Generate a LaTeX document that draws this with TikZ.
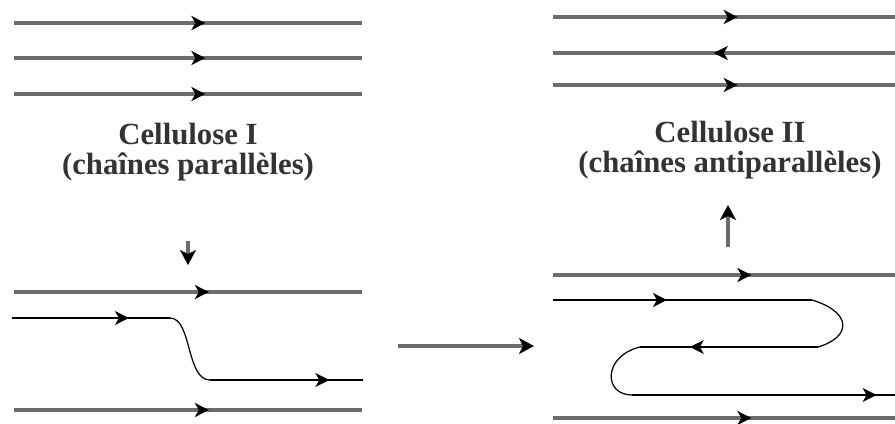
\documentclass[tikz,border=0pt]{standalone}
\usepackage{fontspec}
\setmainfont{Liberation Serif}
\usetikzlibrary{arrows.meta,decorations.markings}
\begin{document}
\begin{tikzpicture}[x=0.02cm,y=-0.02cm,
  strand/.style={gray!85!black,line width=1.8pt},
  chain/.style={black,line width=0.7pt},
  midarrow/.style={postaction={decorate},decoration={markings,
    mark=at position #1 with {\arrow[black]{Stealth[length=2.8mm,width=2.8mm,inset=0.8mm]}}}},
  conn/.style={draw=gray!85!black,line width=1.8pt,-{Stealth[color=black,length=3mm,width=3.2mm,inset=0.8mm]}},
  title/.style={black!80,align=center,font=\bfseries\fontsize{17.5}{17.5}\selectfont}]
  \useasboundingbox (0,0) rectangle (895,423);
  % cellulose I
  \foreach \y in {23,58,94}
    \draw [strand,midarrow=0.55] (14,\y) -- (362,\y);
  \node [title] (capI) at (188,152) {Cellulose I\\(chaînes parallèles)};
  \coordinate (dwnA) at (188,241);
  \coordinate (dwnB) at (188,265);
  \draw [conn] (dwnA) -- (dwnB);
  % chain sliding down
  \draw [strand,midarrow=0.56] (14,292) -- (362,292);
  \draw [strand,midarrow=0.56] (14,410) -- (362,410);
  \draw [chain,midarrow=0.74] (12,318) -- (170,318);
  \draw [chain] (170,318) .. controls (192,318) and (186,380) .. (210,380);
  \draw [chain,midarrow=0.78] (210,380) -- (363,380);
  % middle step
  \coordinate (midA) at (398,346);
  \coordinate (midB) at (534,346);
  \draw [conn] (midA) -- (midB);
  % folded chain
  \draw [strand,midarrow=0.58] (553,275) -- (895,275);
  \draw [strand,midarrow=0.58] (553,418) -- (895,418);
  \draw [chain,midarrow=0.44] (553,300) -- (812,300);
  \draw [black,line width=1.3pt] (580,300) -- (652,300);
  \draw [chain] (812,300) .. controls (852,312) and (852,337) .. (818,347);
  \draw [chain,midarrow=0.72] (818,347) -- (640,347);
  \draw [chain] (640,347) .. controls (603,356) and (603,395) .. (632,395);
  \draw [chain,midarrow=0.93] (632,395) -- (895,395);
  \coordinate (upA) at (728,247);
  \coordinate (upB) at (728,205);
  \draw [conn] (upA) -- (upB);
  % cellulose II
  \node [title] (capII) at (730,150) {Cellulose II\\(chaînes antiparallèles)};
  \draw [strand,midarrow=0.54] (553,17) -- (895,17);
  \draw [strand,midarrow=0.53] (895,53) -- (553,53);
  \draw [strand,midarrow=0.54] (553,85) -- (895,85);
\end{tikzpicture}
\end{document}
